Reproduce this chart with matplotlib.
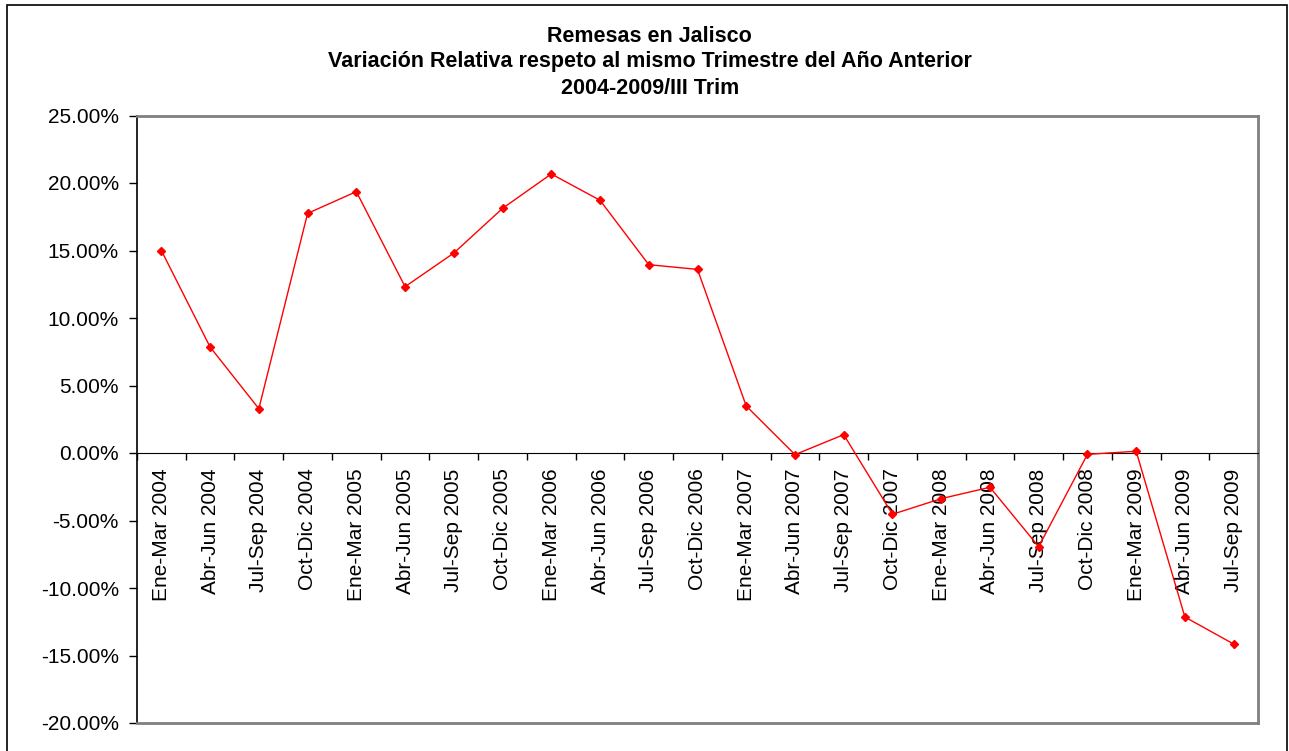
import numpy as np
import matplotlib
matplotlib.use('Agg')
import matplotlib.pyplot as plt
from matplotlib.patches import Rectangle
from matplotlib.ticker import FuncFormatter

plt.rcParams['font.family'] = ['Liberation Sans', 'DejaVu Sans']

# quarters and relative variation (%)
periods = ['Ene-Mar 2004', 'Abr-Jun 2004', 'Jul-Sep 2004', 'Oct-Dic 2004',
           'Ene-Mar 2005', 'Abr-Jun 2005', 'Jul-Sep 2005', 'Oct-Dic 2005',
           'Ene-Mar 2006', 'Abr-Jun 2006', 'Jul-Sep 2006', 'Oct-Dic 2006',
           'Ene-Mar 2007', 'Abr-Jun 2007', 'Jul-Sep 2007', 'Oct-Dic 2007',
           'Ene-Mar 2008', 'Abr-Jun 2008', 'Jul-Sep 2008', 'Oct-Dic 2008',
           'Ene-Mar 2009', 'Abr-Jun 2009', 'Jul-Sep 2009']
variacion = [15.0, 7.85, 3.28, 17.75, 19.36, 12.32, 14.81, 18.12, 20.67,
             18.72, 13.95, 13.6, 3.48, -0.12, 1.36, -4.54, -3.38, -2.54,
             -6.94, -0.1, 0.13, -12.15, -14.15]
yticks = [-20, -15, -10, -5, 0, 5, 10, 15, 20, 25]

titulo = ['Remesas en Jalisco',
          'Variación Relativa respeto al mismo Trimestre del Año Anterior',
          '2004-2009/III Trim']

fig = plt.figure(figsize=(12.89, 7.51), dpi=100)
ax = fig.add_axes([137 / 1289, 1 - 723 / 751, 1121 / 1289, 607.5 / 751])

x = np.arange(len(periods))
ax.plot(x, variacion, color='#FF0000', lw=1.0, marker='D', ms=4.5,
        zorder=5, clip_on=False)

ax.set_xlim(-0.5, len(periods) - 0.5)
ax.set_ylim(-20, 25)
ax.set_yticks(yticks)
ax.yaxis.set_major_formatter(FuncFormatter(lambda v, p: '%.2f%%' % v))
ax.tick_params(axis='y', direction='out', length=6, width=1,
               labelsize=15, pad=7)

# x axis crosses at zero; boundaries as ticks, labels at category centres
ax.spines['bottom'].set_position(('data', 0))
ax.spines['bottom'].set_color('black')
ax.set_xticks(np.arange(len(periods) + 1) - 0.5)
ax.set_xticklabels([])
ax.set_xticks(x, minor=True)
ax.set_xticklabels(periods, minor=True, rotation=90, fontsize=15,
                   va='top', ha='center')
ax.tick_params(axis='x', which='major', direction='out', length=5, width=1)
ax.tick_params(axis='x', which='minor', length=0, pad=11)

ax.spines['left'].set_color('black')
ax.spines['left'].set_linewidth(1.2)
for s in ['top', 'right']:
    ax.spines[s].set_color('#808080')
    ax.spines[s].set_linewidth(2)
# bottom border of the plot area
ax.plot([0, 1], [0, 0], transform=ax.transAxes, color='#808080', lw=2,
        clip_on=False, zorder=4)

for linea, ypix in zip(titulo, [36, 62, 89]):
    fig.text(0.504, 1 - ypix / 751, linea, ha='center', va='center',
             fontsize=15.5, fontweight='bold')

fig.patches.append(Rectangle((7 / 1289, -0.01), 1280 / 1289, 1.01 - 5 / 751,
                             transform=fig.transFigure, fill=False,
                             edgecolor='black', lw=1.2))

fig.savefig('out.png', dpi=100, facecolor='white')
